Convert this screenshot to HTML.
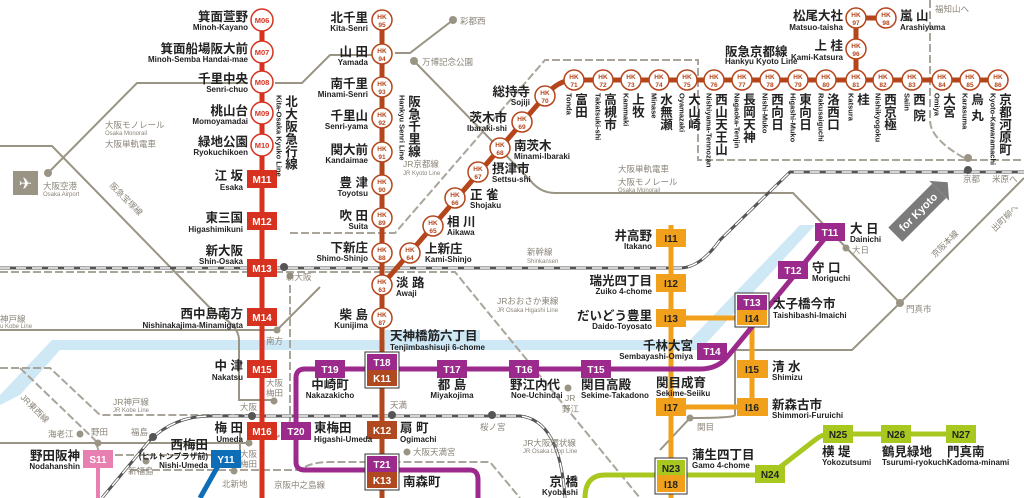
<!DOCTYPE html>
<html><head><meta charset="utf-8">
<style>
html,body{margin:0;padding:0;background:#fff;}
svg{display:block;font-family:"Liberation Sans","Noto Sans CJK JP",sans-serif;}
.j{font-size:12.5px;font-weight:bold;fill:#222;}
.e{font-size:8px;font-weight:bold;fill:#222;}
.g{font-size:8.5px;fill:#8a8478;}
.ge{font-size:6px;fill:#8a8478;}
.b{font-size:10px;font-weight:bold;fill:#fff;text-anchor:middle;}
.bo{font-size:10px;font-weight:bold;fill:#222;text-anchor:middle;}
.hk{font-size:6.5px;font-weight:bold;fill:#b5451b;text-anchor:middle;}
.mc{font-size:7.5px;font-weight:bold;fill:#d7321f;text-anchor:middle;}
.vj{writing-mode:vertical-rl;font-size:12.5px;font-weight:bold;fill:#222;}
.ve{writing-mode:vertical-rl;font-size:7.5px;font-weight:bold;fill:#222;}
.r{text-anchor:end;}
.m{text-anchor:middle;}
</style></head><body>
<svg width="1024" height="498" viewBox="0 0 1024 498" xmlns="http://www.w3.org/2000/svg">
<polygon points="0,405 0,395 52,340 680,340 690,340 800,225 815,225 700,350 60,350 20,395" fill="#cfe8f6"/>
<rect x="385" y="330" width="95" height="18" fill="#cfe8f6"/>

<g fill="none" stroke="#9a9484" stroke-width="2">
<path d="M0,146 H52 L215,313 Q239,325 239,340 V400 H272"/>
<path d="M48,173 L137,83 H248"/>
<path d="M275,83 H302 L330,55 H372"/>
<path d="M395,53 H410 L453,20"/>
<path d="M414,61 L530,180 Q540,193 555,193 H793 L900,303 L1024,178"/>
<path d="M900,303 L852,350 H735 V415 Q735,418 690,418 L660,450"/>
<path d="M0,330 H277 L320,287"/>
<path d="M0,443 H250"/>
<path d="M240,432 V460"/>
</g>
<g fill="none" stroke="#aaa59b" stroke-width="2" stroke-dasharray="8,3">
<path d="M290,233 H395 L545,60 H698 V160 H1024"/>
<path d="M930,0 V120 Q930,140 968,160"/>
<path d="M290,285 V420 Q288,432 272,440"/>
<path d="M0,368 H50 L100,415 H250"/>
<path d="M0,272 H455 L640,498"/>
<path d="M130,470 H300 Q310,462 330,462 H382 H490 L520,498"/>
<path d="M115,455 H240"/>
<path d="M20,368 L95,440 L100,455"/>
</g>
<g fill="none">
<path d="M0,268 H680 Q700,268 720,240 L790,172 H1024" stroke="#555" stroke-width="3"/>
<path d="M0,268 H680 Q700,268 720,240 L790,172 H1024" stroke="#fff" stroke-width="1.5" stroke-dasharray="10,6"/>
<path d="M250,416 H520 Q560,420 565,498" stroke="#555" stroke-width="3"/>
<path d="M250,416 H520 Q560,420 565,498" stroke="#fff" stroke-width="1.5" stroke-dasharray="10,6"/>
<path d="M102,498 L150,440 Q175,416 210,416 H250" stroke="#555" stroke-width="3"/>
<path d="M102,498 L150,440 Q175,416 210,416 H250" stroke="#fff" stroke-width="1.5" stroke-dasharray="10,6"/>
</g>
<g fill="#9a9484">
<circle cx="48" cy="173" r="4"/><circle cx="453" cy="20" r="4"/><circle cx="414" cy="61" r="4"/>
<circle cx="284" cy="267" r="4" fill="#555"/><circle cx="290" cy="276" r="3.5"/><circle cx="277" cy="330" r="3.5"/>
<circle cx="274" cy="401" r="3.5"/><circle cx="252" cy="416" r="4" fill="#555"/><circle cx="392" cy="415" r="4" fill="#555"/>
<circle cx="492" cy="415" r="4" fill="#555"/><circle cx="568" cy="388" r="3.5"/><circle cx="407" cy="452" r="3.5"/>
<circle cx="846" cy="248" r="3.5"/><circle cx="900" cy="303" r="4"/><circle cx="690" cy="418" r="3.5"/>
<circle cx="968" cy="158" r="4"/><circle cx="968" cy="170" r="4" fill="#555"/>
<circle cx="153" cy="437" r="4" fill="#555"/><circle cx="98" cy="443" r="3.5"/><circle cx="80" cy="434" r="3.5"/>
<circle cx="146" cy="461" r="3.5"/><circle cx="234" cy="471" r="3.5"/><circle cx="249" cy="443" r="3.5"/>
</g>
<rect x="13" y="171" width="25" height="24" fill="#9a9484"/>
<text x="25.5" y="189" font-size="16" fill="#fff" text-anchor="middle">✈</text>

<text class="g" x="43" y="189">大阪空港</text><text class="ge" x="43" y="196">Osaka Airport</text>
<text class="g" x="105" y="128" font-size="10">大阪モノレール</text><text class="ge" x="105" y="135">Osaka Monorail</text><text class="g" x="105" y="147">大阪単軌電車</text>
<text class="g" x="422" y="65">万博記念公園</text><text class="g" x="460" y="24">彩都西</text>
<text class="g" x="403" y="167">JR京都線</text><text class="ge" x="403" y="175">JR Kyoto Line</text>
<text class="g" x="618" y="172">大阪単軌電車</text><text class="g" x="618" y="185">大阪モノレール</text><text class="ge" x="618" y="192">Osaka Monorail</text>
<text class="g" x="527" y="255">新幹線</text><text class="ge" x="527" y="263">Shinkansen</text>
<text class="g" x="497" y="304">JRおおさか東線</text><text class="ge" x="497" y="312">JR Osaka Higashi Line</text>
<text class="g" x="523" y="446">JR大阪環状線</text><text class="ge" x="523" y="453">JR Osaka Loop Line</text>
<text class="g" x="0" y="322">神戸線</text><text class="ge" x="0" y="328">u Kobe Line</text>
<text class="g" x="113" y="405">JR神戸線</text><text class="ge" x="113" y="412">JR Kobe Line</text>
<text class="g" x="286" y="280">新大阪</text><text class="g" x="266" y="344">南方</text>
<text class="g" x="266" y="386">大阪</text><text class="g" x="266" y="396">梅田</text><text class="g" x="240" y="410">大阪</text>
<text class="g" x="390" y="408">天満</text><text class="g" x="413" y="455">大阪天満宮</text><text class="g" x="480" y="430">桜ノ宮</text>
<text class="g" x="565" y="401">JR</text><text class="g" x="562" y="412">野江</text><text class="g" x="697" y="430">関目</text>
<text class="g" x="222" y="487">北新地</text><text class="g" x="274" y="488">京阪中之島線</text>
<text class="g" x="131" y="435">福島</text><text class="g" x="91" y="435">野田</text><text class="g" x="48" y="437">海老江</text><text class="g" x="128" y="474">新福島</text>
<text class="g" x="240" y="457">大阪</text><text class="g" x="240" y="467">梅田</text>
<text class="g" x="852" y="253">大日</text><text class="g" x="906" y="312">門真市</text>
<text class="g" x="963" y="182">京都</text><text class="g" x="992" y="182">米原へ</text><text class="g" x="935" y="12">福知山へ</text>
<text class="g" transform="translate(109,186) rotate(45)">阪急宝塚線</text>
<text class="g" transform="translate(20,398) rotate(45)">JR東西線</text>
<text class="g" transform="translate(935,258) rotate(-45)">京阪本線</text>
<text class="g" transform="translate(995,232) rotate(-45)">出町柳へ</text>
<g transform="translate(918,212) rotate(-45)"><rect x="-32" y="-10" width="62" height="20" fill="#7b7b7b"/><polygon points="30,-14 42,0 30,14" fill="#7b7b7b"/><text x="0" y="4" font-size="11" font-weight="bold" fill="#fff" text-anchor="middle">for Kyoto</text></g>

<line x1="262" y1="10" x2="262" y2="498" stroke="#d7321f" stroke-width="5"/>
<g fill="#fff" stroke="#d7321f" stroke-width="1.5">
<circle cx="262" cy="20" r="11"/><circle cx="262" cy="52" r="11"/><circle cx="262" cy="82" r="11"/><circle cx="262" cy="113" r="11"/><circle cx="262" cy="145" r="11"/>
</g>
<text class="mc" x="262" y="23">M06</text><text class="mc" x="262" y="55">M07</text><text class="mc" x="262" y="85">M08</text><text class="mc" x="262" y="116">M09</text><text class="mc" x="262" y="148">M10</text>
<g fill="#d7321f">
<rect x="247" y="170" width="30" height="18"/><rect x="247" y="212" width="30" height="18"/><rect x="247" y="259" width="30" height="18"/>
<rect x="247" y="308" width="30" height="18"/><rect x="247" y="360" width="30" height="18"/><rect x="247" y="422" width="30" height="18"/>
</g>
<text class="b" x="262" y="183">M11</text><text class="b" x="262" y="225">M12</text><text class="b" x="262" y="272">M13</text>
<text class="b" x="262" y="321">M14</text><text class="b" x="262" y="373">M15</text><text class="b" x="262" y="435">M16</text>
<text class="j r" x="248" y="21">箕面萱野</text><text class="e r" x="248" y="30">Minoh-Kayano</text>
<text class="j r" x="248" y="53">箕面船場阪大前</text><text class="e r" x="248" y="62">Minoh-Semba Handai-mae</text>
<text class="j r" x="248" y="83">千里中央</text><text class="e r" x="248" y="92">Senri-chuo</text>
<text class="j r" x="248" y="115">桃山台</text><text class="e r" x="248" y="124">Momoyamadai</text>
<text class="j r" x="248" y="146">緑地公園</text><text class="e r" x="248" y="155">Ryokuchikoen</text>
<text class="j r" x="243" y="180">江 坂</text><text class="e r" x="243" y="190">Esaka</text>
<text class="j r" x="243" y="222">東三国</text><text class="e r" x="243" y="232">Higashimikuni</text>
<text class="j r" x="243" y="255">新大阪</text><text class="e r" x="243" y="264">Shin-Osaka</text>
<text class="j r" x="243" y="318">西中島南方</text><text class="e r" x="243" y="328">Nishinakajima-Minamigata</text>
<text class="j r" x="243" y="370">中 津</text><text class="e r" x="243" y="380">Nakatsu</text>
<text class="j r" x="243" y="432">梅 田</text><text class="e r" x="243" y="442">Umeda</text>
<text class="j r" x="208" y="449">西梅田</text><text class="e r" x="208" y="459" font-weight="normal">(ヒルトンプラザ前)</text><text class="e r" x="208" y="468">Nishi-Umeda</text>
<text class="j r" x="80" y="460">野田阪神</text><text class="e r" x="80" y="469">Nodahanshin</text>
<text class="vj" x="290" y="95" font-size="11">北大阪急行線</text><text class="ve" x="279" y="95" font-size="6">Kita-Osaka Kyuko Line</text>
<path d="M218,466 L200,498" stroke="#0d6db7" stroke-width="5"/>
<rect x="211" y="450" width="30" height="18" fill="#0d6db7"/><text class="b" x="226" y="463">Y11</text>
<line x1="98" y1="460" x2="98" y2="498" stroke="#e77fb0" stroke-width="4"/>
<rect x="83" y="450" width="30" height="18" fill="#e77fb0"/><text class="b" x="98" y="463">S11</text>

<g stroke="#b5451b" stroke-width="5" fill="none">
<line x1="382" y1="20" x2="382" y2="318"/>
<path d="M382,285 L545,96 Q558,80 574,80 H998"/>
<path d="M856,80 V18 H886"/>
</g>
<line x1="382" y1="318" x2="382" y2="498" stroke="#b0491f" stroke-width="5"/>
<g fill="#fff" stroke="#b5451b" stroke-width="1.5">
<circle cx="382" cy="20" r="10"/><circle cx="382" cy="54" r="10"/><circle cx="382" cy="87" r="10"/><circle cx="382" cy="118" r="10"/><circle cx="382" cy="152" r="10"/><circle cx="382" cy="185" r="10"/><circle cx="382" cy="218" r="10"/><circle cx="382" cy="253" r="10"/><circle cx="382" cy="285" r="10"/><circle cx="382" cy="318" r="10"/>
<circle cx="410" cy="253" r="10"/><circle cx="433" cy="226" r="10"/><circle cx="455" cy="198" r="10"/><circle cx="478" cy="172" r="10"/><circle cx="500" cy="148" r="10"/><circle cx="522" cy="122" r="10"/><circle cx="545" cy="96" r="10"/>
<circle cx="574" cy="80" r="10"/><circle cx="603" cy="80" r="10"/><circle cx="631" cy="80" r="10"/><circle cx="659" cy="80" r="10"/><circle cx="687" cy="80" r="10"/><circle cx="714" cy="80" r="10"/><circle cx="742" cy="80" r="10"/><circle cx="770" cy="80" r="10"/><circle cx="798" cy="80" r="10"/><circle cx="826" cy="80" r="10"/><circle cx="856" cy="80" r="10"/><circle cx="883" cy="80" r="10"/><circle cx="912" cy="80" r="10"/><circle cx="942" cy="80" r="10"/><circle cx="970" cy="80" r="10"/><circle cx="998" cy="80" r="10"/>
<circle cx="856" cy="49" r="10"/><circle cx="856" cy="18" r="10"/><circle cx="886" cy="18" r="10"/>
</g>
<g class="hk">
<text x="382" y="19">HK</text><text x="382" y="27">95</text>
<text x="382" y="53">HK</text><text x="382" y="61">94</text>
<text x="382" y="86">HK</text><text x="382" y="94">93</text>
<text x="382" y="117">HK</text><text x="382" y="125">92</text>
<text x="382" y="151">HK</text><text x="382" y="159">91</text>
<text x="382" y="184">HK</text><text x="382" y="192">90</text>
<text x="382" y="217">HK</text><text x="382" y="225">89</text>
<text x="382" y="252">HK</text><text x="382" y="260">88</text>
<text x="382" y="284">HK</text><text x="382" y="292">63</text>
<text x="382" y="317">HK</text><text x="382" y="325">87</text>
<text x="410" y="252">HK</text><text x="410" y="260">64</text>
<text x="433" y="225">HK</text><text x="433" y="233">65</text>
<text x="455" y="197">HK</text><text x="455" y="205">66</text>
<text x="478" y="171">HK</text><text x="478" y="179">67</text>
<text x="500" y="147">HK</text><text x="500" y="155">68</text>
<text x="522" y="121">HK</text><text x="522" y="129">69</text>
<text x="545" y="95">HK</text><text x="545" y="103">70</text>
<text x="574" y="79">HK</text><text x="574" y="87">71</text>
<text x="603" y="79">HK</text><text x="603" y="87">72</text>
<text x="631" y="79">HK</text><text x="631" y="87">73</text>
<text x="659" y="79">HK</text><text x="659" y="87">74</text>
<text x="687" y="79">HK</text><text x="687" y="87">75</text>
<text x="714" y="79">HK</text><text x="714" y="87">76</text>
<text x="742" y="79">HK</text><text x="742" y="87">77</text>
<text x="770" y="79">HK</text><text x="770" y="87">78</text>
<text x="798" y="79">HK</text><text x="798" y="87">79</text>
<text x="826" y="79">HK</text><text x="826" y="87">80</text>
<text x="856" y="79">HK</text><text x="856" y="87">81</text>
<text x="883" y="79">HK</text><text x="883" y="87">82</text>
<text x="912" y="79">HK</text><text x="912" y="87">83</text>
<text x="942" y="79">HK</text><text x="942" y="87">84</text>
<text x="970" y="79">HK</text><text x="970" y="87">85</text>
<text x="998" y="79">HK</text><text x="998" y="87">86</text>
<text x="856" y="48">HK</text><text x="856" y="56">96</text>
<text x="856" y="17">HK</text><text x="856" y="25">97</text>
<text x="886" y="17">HK</text><text x="886" y="25">98</text>
</g>
<text class="j r" x="368" y="22">北千里</text><text class="e r" x="368" y="31">Kita-Senri</text>
<text class="j r" x="368" y="56">山 田</text><text class="e r" x="368" y="65">Yamada</text>
<text class="j r" x="368" y="88">南千里</text><text class="e r" x="368" y="97">Minami-Senri</text>
<text class="j r" x="368" y="120">千里山</text><text class="e r" x="368" y="129">Senri-yama</text>
<text class="j r" x="368" y="154">関大前</text><text class="e r" x="368" y="163">Kandaimae</text>
<text class="j r" x="368" y="187">豊 津</text><text class="e r" x="368" y="196">Toyotsu</text>
<text class="j r" x="368" y="220">吹 田</text><text class="e r" x="368" y="229">Suita</text>
<text class="j r" x="368" y="252">下新庄</text><text class="e r" x="368" y="261">Shimo-Shinjo</text>
<text class="j" x="396" y="287">淡 路</text><text class="e" x="396" y="296">Awaji</text>
<text class="j r" x="368" y="319">柴 島</text><text class="e r" x="368" y="328">Kunijima</text>
<text class="vj" x="413" y="95" font-size="11">阪急千里線</text><text class="ve" x="402" y="95" font-size="6">Hankyu Senri Line</text>
<text class="j" x="425" y="253">上新庄</text><text class="e" x="425" y="262">Kami-Shinjo</text>
<text class="j" x="447" y="226">相 川</text><text class="e" x="447" y="235">Aikawa</text>
<text class="j" x="470" y="199">正 雀</text><text class="e" x="470" y="208">Shojaku</text>
<text class="j" x="492" y="173">摂津市</text><text class="e" x="492" y="182">Settsu-shi</text>
<text class="j" x="514" y="150">南茨木</text><text class="e" x="514" y="159">Minami-Ibaraki</text>
<text class="j r" x="507" y="122">茨木市</text><text class="e r" x="507" y="131">Ibaraki-shi</text>
<text class="j r" x="530" y="96">総持寺</text><text class="e r" x="530" y="105">Sojiji</text>
<text class="j" x="725" y="56" font-size="10">阪急京都線</text><text class="e" x="725" y="64" font-size="6">Hankyu Kyoto Line</text>
<text class="j r" x="843" y="20">松尾大社</text><text class="e r" x="843" y="30">Matsuo-taisha</text>
<text class="j" x="900" y="20">嵐 山</text><text class="e" x="900" y="30">Arashiyama</text>
<text class="j r" x="843" y="50">上 桂</text><text class="e r" x="843" y="60">Kami-Katsura</text>
<g>
<text class="vj" x="580" y="93">富田</text><text class="ve" x="569" y="93">Tonda</text>
<text class="vj" x="609" y="93">高槻市</text><text class="ve" x="598" y="93">Takatsuki-shi</text>
<text class="vj" x="637" y="93">上牧</text><text class="ve" x="626" y="93">Kammaki</text>
<text class="vj" x="665" y="93">水無瀬</text><text class="ve" x="654" y="93">Minase</text>
<text class="vj" x="693" y="93">大山崎</text><text class="ve" x="682" y="93">Oyamazaki</text>
<text class="vj" x="720" y="93">西山天王山</text><text class="ve" x="709" y="93">Nishiyama-Tennozan</text>
<text class="vj" x="748" y="93">長岡天神</text><text class="ve" x="737" y="93">Nagaoka-Tenjin</text>
<text class="vj" x="776" y="93">西向日</text><text class="ve" x="765" y="93">Nishi-Muko</text>
<text class="vj" x="804" y="93">東向日</text><text class="ve" x="793" y="93">Higashi-Muko</text>
<text class="vj" x="832" y="93">洛西口</text><text class="ve" x="821" y="93">Rakusaiguchi</text>
<text class="vj" x="862" y="93">桂</text><text class="ve" x="851" y="93">Katsura</text>
<text class="vj" x="889" y="93">西京極</text><text class="ve" x="878" y="93">Nishikyogoku</text>
<text class="vj" x="918" y="93">西 院</text><text class="ve" x="907" y="93">Saiin</text>
<text class="vj" x="948" y="93">大宮</text><text class="ve" x="937" y="93">Omiya</text>
<text class="vj" x="976" y="93">烏 丸</text><text class="ve" x="965" y="93">Karasuma</text>
<text class="vj" x="1004" y="93">京都河原町</text><text class="ve" x="993" y="93">Kyoto-Kawaramachi</text>
</g>

<g stroke="#f0a01a" stroke-width="5" fill="none">
<path d="M671,225 V498"/><path d="M671,318 H752 V407 H671"/>
</g>
<path d="M585,498 Q585,475 605,475 H770 L815,440 Q822,434 830,434 H961" stroke="#a8c820" stroke-width="5" fill="none"/>
<g stroke="#9c2a8c" stroke-width="5" fill="none">
<path d="M330,369 H305 Q296,369 296,378 V462 Q296,470 305,470 H470 Q478,470 478,480 V498"/>
<path d="M330,369 H700 Q718,369 728,356 L830,232"/>
</g>
<g>
<rect x="656" y="229" width="30" height="18" fill="#f0a01a"/><text class="bo" x="671" y="242">I11</text>
<rect x="656" y="274" width="30" height="18" fill="#f0a01a"/><text class="bo" x="671" y="287">I12</text>
<rect x="656" y="309" width="30" height="18" fill="#f0a01a"/><text class="bo" x="671" y="322">I13</text>
<rect x="737" y="360" width="31" height="18" fill="#f0a01a"/><text class="bo" x="752" y="373">I15</text>
<rect x="737" y="398" width="31" height="18" fill="#f0a01a"/><text class="bo" x="752" y="411">I16</text>
<rect x="656" y="398" width="30" height="18" fill="#f0a01a"/><text class="bo" x="671" y="411">I17</text>
<rect x="655" y="458" width="32" height="36" fill="#fff" stroke="#333" stroke-width="1"/>
<rect x="657" y="460" width="28" height="15" fill="#a8c820"/><text class="bo" x="671" y="472">N23</text>
<rect x="657" y="475" width="28" height="17" fill="#f0a01a"/><text class="bo" x="671" y="488">I18</text>
<rect x="755" y="465" width="30" height="18" fill="#a8c820"/><text class="bo" x="770" y="478">N24</text>
<rect x="823" y="425" width="30" height="18" fill="#a8c820"/><text class="bo" x="838" y="438">N25</text>
<rect x="881" y="425" width="30" height="18" fill="#a8c820"/><text class="bo" x="896" y="438">N26</text>
<rect x="946" y="425" width="30" height="18" fill="#a8c820"/><text class="bo" x="961" y="438">N27</text>
<rect x="315" y="360" width="30" height="18" fill="#9c2a8c"/><text class="b" x="330" y="373">T19</text>
<rect x="437" y="360" width="30" height="18" fill="#9c2a8c"/><text class="b" x="452" y="373">T17</text>
<rect x="509" y="360" width="30" height="18" fill="#9c2a8c"/><text class="b" x="524" y="373">T16</text>
<rect x="581" y="360" width="30" height="18" fill="#9c2a8c"/><text class="b" x="596" y="373">T15</text>
<rect x="697" y="343" width="30" height="17" fill="#9c2a8c"/><text class="b" x="712" y="355">T14</text>
<rect x="778" y="261" width="30" height="18" fill="#9c2a8c"/><text class="b" x="793" y="274">T12</text>
<rect x="815" y="223" width="30" height="18" fill="#9c2a8c"/><text class="b" x="830" y="236">T11</text>
<rect x="281" y="422" width="30" height="18" fill="#9c2a8c"/><text class="b" x="296" y="435">T20</text>
<rect x="367" y="421" width="30" height="18" fill="#b0491f"/><text class="b" x="382" y="434">K12</text>
<rect x="365" y="352" width="34" height="36" fill="#fff" stroke="#333"/>
<rect x="367" y="354" width="30" height="16" fill="#9c2a8c"/><text class="b" x="382" y="366">T18</text>
<rect x="367" y="370" width="30" height="16" fill="#b0491f"/><text class="b" x="382" y="382">K11</text>
<rect x="365" y="454" width="34" height="36" fill="#fff" stroke="#333"/>
<rect x="367" y="456" width="30" height="16" fill="#9c2a8c"/><text class="b" x="382" y="468">T21</text>
<rect x="367" y="472" width="30" height="16" fill="#b0491f"/><text class="b" x="382" y="484">K13</text>
<rect x="735" y="293" width="34" height="34" fill="#fff" stroke="#333"/>
<rect x="737" y="295" width="30" height="15" fill="#9c2a8c"/><text class="b" x="752" y="306">T13</text>
<rect x="737" y="310" width="30" height="15" fill="#f0a01a"/><text class="bo" x="752" y="322">I14</text>
</g>
<text class="j" x="390" y="340">天神橋筋六丁目</text><text class="e" x="390" y="350">Tenjimbashisuji 6-chome</text>
<text class="j m" x="330" y="389">中崎町</text><text class="e m" x="330" y="398">Nakazakicho</text>
<text class="j m" x="452" y="389">都 島</text><text class="e m" x="452" y="398">Miyakojima</text>
<text class="j" x="510" y="389">野江内代</text><text class="e" x="511" y="398">Noe-Uchindai</text>
<text class="j" x="581" y="389">関目高殿</text><text class="e" x="581" y="398">Sekime-Takadono</text>
<text class="j r" x="693" y="350">千林大宮</text><text class="e r" x="693" y="359">Sembayashi-Omiya</text>
<text class="j" x="314" y="432">東梅田</text><text class="e" x="314" y="442">Higashi-Umeda</text>
<text class="j" x="400" y="432">扇 町</text><text class="e" x="400" y="442">Ogimachi</text>
<text class="j" x="403" y="486">南森町</text>
<text class="j" x="773" y="308">太子橋今市</text><text class="e" x="773" y="318">Taishibashi-Imaichi</text>
<text class="j" x="812" y="272">守 口</text><text class="e" x="812" y="281">Moriguchi</text>
<text class="j" x="850" y="233">大 日</text><text class="e" x="850" y="242">Dainichi</text>
<text class="j r" x="652" y="240">井高野</text><text class="e r" x="652" y="249">Itakano</text>
<text class="j r" x="652" y="285">瑞光四丁目</text><text class="e r" x="652" y="294">Zuiko 4-chome</text>
<text class="j r" x="652" y="320">だいどう豊里</text><text class="e r" x="652" y="329">Daido-Toyosato</text>
<text class="j" x="772" y="371">清 水</text><text class="e" x="772" y="380">Shimizu</text>
<text class="j" x="772" y="409">新森古市</text><text class="e" x="772" y="418">Shimmori-Furuichi</text>
<text class="j" x="656" y="387">関目成育</text><text class="e" x="656" y="396">Sekime-Seiiku</text>
<text class="j" x="692" y="459">蒲生四丁目</text><text class="e" x="692" y="468">Gamo 4-chome</text>
<text class="j r" x="578" y="486">京 橋</text><text class="e r" x="578" y="495">Kyobashi</text>
<text class="j" x="822" y="456">横 堤</text><text class="e" x="822" y="465">Yokozutsumi</text>
<text class="j" x="882" y="456">鶴見緑地</text><text class="e" x="882" y="465">Tsurumi-ryokuchi</text>
<text class="j" x="947" y="456">門真南</text><text class="e" x="947" y="465">Kadoma-minami</text>
</svg>
</body></html>
